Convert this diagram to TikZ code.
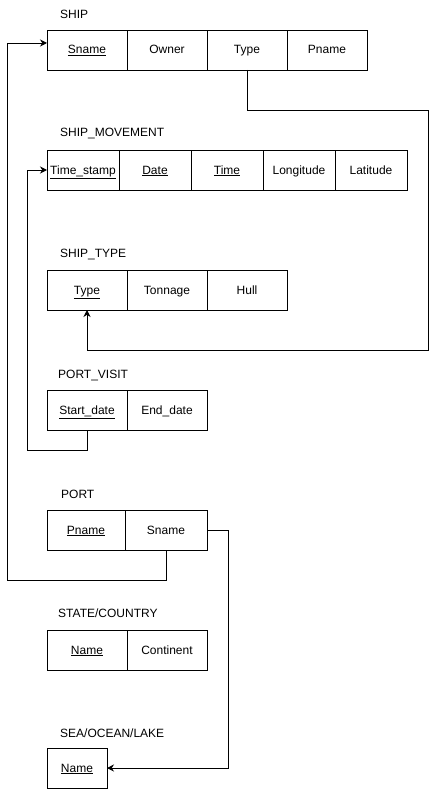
\documentclass[tikz,border=0pt]{standalone}
\usepackage{fontspec}
\setmainfont{Liberation Sans}
\usetikzlibrary{arrows.meta}
\begin{document}
\begin{tikzpicture}[x=1pt,y=-1pt,
  every node/.style={font=\fontsize{12}{14}\selectfont},
  cell/.style={draw, line width=0.9pt, minimum height=40pt, inner sep=0pt, outer sep=0pt, text height=10.5pt, text depth=2.5pt},
  c80/.style={cell, minimum width=80pt},
  c72/.style={cell, minimum width=72pt},
  c78/.style={cell, minimum width=78pt},
  c82/.style={cell, minimum width=82pt},
  c60/.style={cell, minimum width=60pt},
  title/.style={anchor=west, inner sep=0pt},
  arr/.style={line width=0.9pt, -{Stealth[length=7pt,width=7pt]}},
  ln/.style={line width=0.9pt}]
\useasboundingbox (0,0) rectangle (437,789);
\fill[white] (0,0) rectangle (437,789);

% SHIP
\node[title] (tship) at (60,14) {SHIP};
\node[c80] (s1) at (87,50) {\underline{Sname}};
\node[c80] (s2) at (167,50) {Owner};
\node[c80] (s3) at (247,50) {Type};
\node[c80] (s4) at (327,50) {Pname};

% SHIP_MOVEMENT
\node[title] (tmove) at (60,134) {SHIP\_MOVEMENT};
\node[c72] (m1) at (83,170) {\underline{Time\_stamp}};
\node[c72] (m2) at (155,170) {\underline{Date}};
\node[c72] (m3) at (227,170) {\underline{Time}};
\node[c72] (m4) at (299,170) {Longitude};
\node[c72] (m5) at (371,170) {Latitude};

% SHIP_TYPE
\node[title] (ttype) at (60,255) {SHIP\_TYPE};
\node[c80] (t1) at (87,290) {\underline{Type}};
\node[c80] (t2) at (167,290) {Tonnage};
\node[c80] (t3) at (247,290) {Hull};

% PORT_VISIT
\node[title] (tvisit) at (58,375) {PORT\_VISIT};
\node[c80] (v1) at (87,410) {\underline{Start\_date}};
\node[c80] (v2) at (167,410) {End\_date};

% PORT
\node[title] (tport) at (61,494) {PORT};
\node[c78] (p1) at (86,530) {\underline{Pname}};
\node[c82] (p2) at (166,530) {Sname};

% STATE/COUNTRY
\node[title] (tstate) at (58,613) {STATE/COUNTRY};
\node[c80] (c1) at (87,650) {\underline{Name}};
\node[c80] (c2) at (167,650) {Continent};

% SEA/OCEAN/LAKE
\node[title] (tsea) at (60,733) {SEA/OCEAN/LAKE};
\node[c60] (sea) at (77,768) {\underline{Name}};

% connectors
\coordinate (r1) at (428,110);
\coordinate (b1) at (428,350);
\draw[arr] (s3.south) |- (r1) -- (b1) -| (t1.south);

\coordinate (l3) at (27,450);
\draw[arr] (v1.south) |- (l3) |- (m1.west);

\coordinate (l2) at (7,580);
\draw[arr] (p2.south) |- (l2) |- ([yshift=7pt]s1.west);

\coordinate (r4) at (228,768);
\draw[arr] (p2.east) -| (r4) -- (sea.east);
\end{tikzpicture}
\end{document}
